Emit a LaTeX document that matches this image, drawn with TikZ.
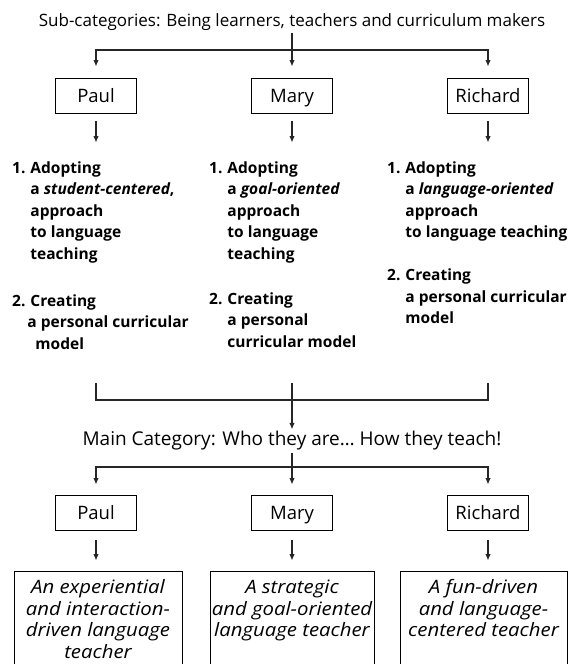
\documentclass[tikz,border=0pt]{standalone}
\usepackage{fontspec}
\setmainfont{Open Sans}
\newfontfamily\resfont[FakeStretch=1.1]{Open Sans}
\usetikzlibrary{arrows.meta,calc}
\tikzstyle{tsTitle} = [
    text=black,
    inner sep=2pt,
    font=\fontsize{17}{20}\selectfont
]
\tikzstyle{tsMain} = [
    tsTitle,
    font=\fontsize{19}{22}\selectfont
]
\tikzstyle{tsName} = [
    text=black,
    draw=black,
    line width=1pt,
    minimum width=81pt,
    minimum height=35pt,
    inner sep=0pt,
    text height=13.2pt,
    text depth=0pt,
    font=\fontsize{18.5}{20}\selectfont
]
\tikzstyle{tsList} = [
    anchor=base west,
    inner sep=0pt,
    font=\fontsize{15.5}{21.5}\selectfont\bfseries
]
\tikzstyle{tsResult} = [
    draw=black,
    line width=1pt,
    anchor=north,
    inner sep=0pt,
    font=\resfont\fontsize{18.5}{21.5}\selectfont\itshape
]
\tikzstyle{tsLine} = [
    draw=black!85,
    line width=1.1pt
]
\tikzstyle{tsArrow} = [
    tsLine,
    -{Latex[length=6.5pt,width=5.5pt]}
]

\begin{document}
\begin{tikzpicture}[x=1pt, y=-1pt]

        \useasboundingbox (0,0) rectangle (576,664);
        \clip (0,0) rectangle (576,664);

        % sub-categories
        \node[tsTitle] (sub) at (292,22) {Sub-categories: Being learners, teachers and curriculum makers};
        \coordinate (subJoin) at (292,50);

        \node[tsName] (paulA) at (96,95.5) {Paul};
        \node[tsName] (maryA) at (292,95.5) {Mary};
        \node[tsName] (richA) at (488,95.5) {Richard};

        \draw[tsArrow, shorten >=11pt] (sub) -- (maryA);
        \draw[tsArrow, shorten >=11pt] (subJoin) -| (paulA);
        \draw[tsArrow, shorten >=11pt] (subJoin) -| (richA);

        \draw[tsArrow] ([yshift=-7pt]paulA.south) -- ([yshift=-29pt]paulA.south);
        \draw[tsArrow] ([yshift=-7pt]maryA.south) -- ([yshift=-29pt]maryA.south);
        \draw[tsArrow] ([yshift=-7pt]richA.south) -- ([yshift=-29pt]richA.south);

        \node[tsList] (paulList) at (12,173) {\begin{tabular}[t]{@{}l@{\hspace{5pt}}l@{}}
            1. & Adopting\\
               & a \textit{student-centered},\\
               & approach\\
               & to language\\
               & teaching\\[25.5pt]
            2. & Creating\\
               & \hspace{-3pt}a personal curricular\\
               & \hspace{5pt}model
        \end{tabular}};
        \node[tsList] (maryList) at (209,173) {\begin{tabular}[t]{@{}l@{\hspace{5pt}}l@{}}
            1. & Adopting\\
               & a \textit{goal-oriented}\\
               & approach\\
               & to language\\
               & teaching\\[23.5pt]
            2. & Creating\\
               & a personal\\
               & curricular model
        \end{tabular}};
        \node[tsList] (richList) at (387,173) {\begin{tabular}[t]{@{}l@{\hspace{5pt}}l@{}}
            1. & Adopting\\
               & a \textit{language-oriented}\\
               & approach\\
               & to language teaching\\[21.5pt]
            2. & Creating\\
               & a personal curricular\\
               & model
        \end{tabular}};

        % main category
        \coordinate (paulEnd) at (96,383);
        \coordinate (maryEnd) at (292,383);
        \coordinate (richEnd) at (488,383);
        \node[tsMain] (main) at (292,441) {Main Category: Who they are\ldots{} How they teach!};
        \coordinate (mainJoin) at (292,467);

        \draw[tsLine] (paulEnd) -- ++(0,17) -| (richEnd);
        \draw[tsArrow] (maryEnd) -- (main);

        \node[tsName] (paulB) at (96,512.5) {Paul};
        \node[tsName] (maryB) at (292,512.5) {Mary};
        \node[tsName] (richB) at (488,512.5) {Richard};

        \draw[tsArrow, shorten >=10pt] (main) -- (maryB);
        \draw[tsArrow, shorten >=10pt] (mainJoin) -| (paulB);
        \draw[tsArrow, shorten >=10pt] (mainJoin) -| (richB);

        \draw[tsArrow] ([yshift=-9pt]paulB.south) -- ([yshift=-30pt]paulB.south);
        \draw[tsArrow] ([yshift=-9pt]maryB.south) -- ([yshift=-30pt]maryB.south);
        \draw[tsArrow] ([yshift=-9pt]richB.south) -- ([yshift=-30pt]richB.south);

        \node[tsResult] (paulRes) at (98,571) {\parbox[t][110pt][t]{168pt}{\centering\vspace*{7pt}\strut
            An experiential\\ and interaction-\\ driven language\\ teacher}};
        \node[tsResult] (maryRes) at (292,571) {\parbox[t][110pt][t]{164pt}{\centering\vspace*{7pt}\strut
            A strategic\\ and goal-oriented\\ language teacher}};
        \node[tsResult] (richRes) at (483.5,571) {\parbox[t][110pt][t]{167pt}{\centering\vspace*{7pt}\strut
            A fun-driven\\ and language-\\ centered teacher}};

\end{tikzpicture}
\end{document}
